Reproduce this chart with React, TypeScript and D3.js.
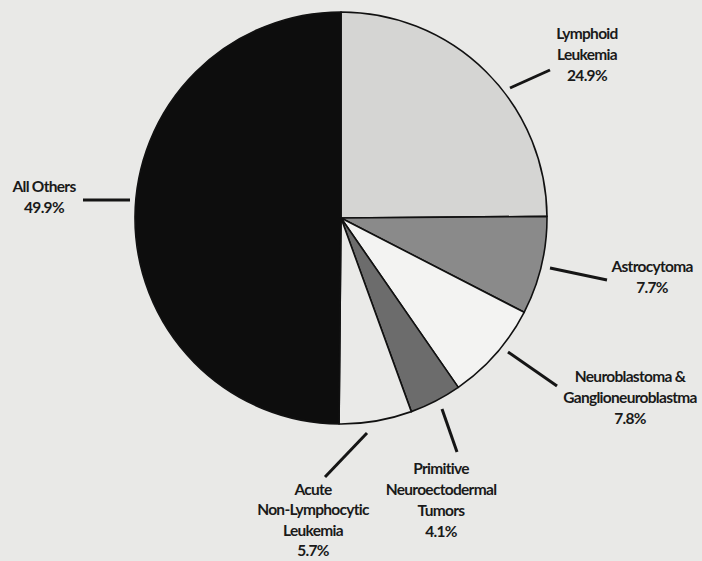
import React from "react";
import * as d3 from "d3";

const categories = [
  "Lymphoid Leukemia",
  "Astrocytoma",
  "Neuroblastoma & Ganglioneuroblastma",
  "Primitive Neuroectodermal Tumors",
  "Acute Non-Lymphocytic Leukemia",
  "All Others",
];
const values = [24.9, 7.7, 7.8, 4.1, 5.7, 49.9];
const labelLines = [
  ["Lymphoid", "Leukemia"],
  ["Astrocytoma"],
  ["Neuroblastoma &", "Ganglioneuroblastma"],
  ["Primitive", "Neuroectodermal", "Tumors"],
  ["Acute", "Non-Lymphocytic", "Leukemia"],
  ["All Others"],
];
const fills = ["#d5d5d3", "#8a8a8a", "#f3f3f2", "#6c6c6c", "#eaeae8", "#0d0d0d"];

// layout: leader line endpoints and label anchor (first baseline) per slice
const layout = [
  { l1: [510, 88], l2: [550, 70], tx: 587, ty: 39 },
  { l1: [550, 268], l2: [607, 280], tx: 652, ty: 272 },
  { l1: [508, 352], l2: [557, 386], tx: 630, ty: 382 },
  { l1: [442, 409], l2: [457, 452], tx: 441, ty: 474 },
  { l1: [367, 433], l2: [325, 477], tx: 313, ty: 495 },
  { l1: [130, 200], l2: [83, 200], tx: 44, ty: 192 },
];

const W = 702;
const H = 561;
const cx = 341;
const cy = 218;
const R = 206;

export default function App() {
  const data = categories.map((c, i) => ({ c, v: values[i], i }));
  const pie = d3.pie<any>().value((d) => d.v).sort(null).startAngle(0).endAngle(2 * Math.PI);
  const arcs = pie(data);
  const arc = d3.arc<any>().innerRadius(0).outerRadius(R);
  return (
    <svg
      width={W}
      height={H}
      style={{ position: "absolute", left: 0, top: 0 }}
      fontFamily="Lato, sans-serif"
    >
      <rect x={0} y={0} width={W} height={H} fill="#e9e9e7" />
      <g transform={`translate(${cx},${cy})`}>
        {arcs.map((a, i) => (
          <path
            key={i}
            d={arc(a) as string}
            fill={fills[i]}
            stroke="#111"
            strokeWidth={1.6}
            strokeLinejoin="round"
          />
        ))}
      </g>
      {layout.map((L, i) => {
        const lh = i === 4 ? 20.3 : 21;
        return (
          <g key={i}>
            <line
              x1={L.l1[0]}
              y1={L.l1[1]}
              x2={L.l2[0]}
              y2={L.l2[1]}
              stroke="#151515"
              strokeWidth={3}
            />
            <text
              textAnchor="middle"
              fontSize={15.5}
              fontWeight={700}
              fill="#1a1a1a"
              letterSpacing={-0.7}
            >
              {[...labelLines[i], `${values[i].toFixed(1)}%`].map((t, j) => (
                <tspan key={j} x={L.tx} y={L.ty + j * lh}>
                  {t}
                </tspan>
              ))}
            </text>
          </g>
        );
      })}
    </svg>
  );
}
